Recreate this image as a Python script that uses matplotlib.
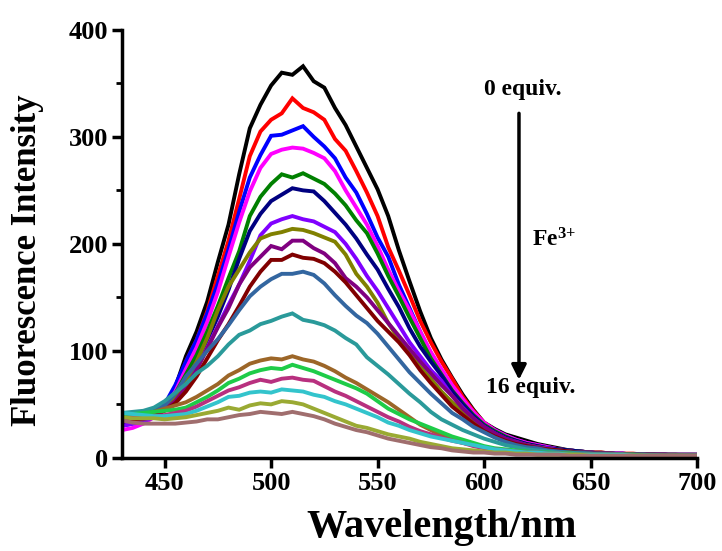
import numpy as np
import matplotlib
matplotlib.use("Agg")
import matplotlib.pyplot as plt
from matplotlib.ticker import MultipleLocator

# emission spectra of the probe, titrated with Fe3+ (0 -> 16 equiv.)
wavelength = np.arange(430, 701, 5)

black = [33, 35, 37, 41, 48, 66, 95, 118, 146, 183, 218,
         265, 308, 330, 348, 360, 358, 366, 352, 346, 327, 311,
         291, 271, 251, 226, 194, 165, 137, 112, 92, 75, 59,
         45, 33, 27, 22, 19, 16, 13, 11, 9, 7, 6,
         5, 5, 4, 4, 3, 3, 3, 3, 3, 3, 3]
red = [32, 33, 35, 40, 47, 63, 90, 110, 137, 170, 203,
       242, 282, 305, 316, 322, 336, 327, 323, 316, 298, 287,
       268, 248, 226, 197, 175, 152, 128, 108, 90, 74, 57,
       44, 33, 26, 21, 17, 14, 12, 10, 8, 7, 6,
       5, 5, 4, 4, 4, 3, 3, 3, 3, 3, 3]
blue = [30, 32, 35, 41, 50, 68, 90, 110, 135, 163, 195,
        230, 262, 283, 301, 302, 306, 310, 300, 291, 280, 262,
        248, 228, 206, 188, 162, 140, 118, 98, 82, 67, 54,
        42, 32, 26, 21, 17, 14, 12, 10, 8, 7, 6,
        5, 4, 4, 4, 3, 3, 3, 3, 3, 3, 3]
magenta = [26, 28, 32, 38, 47, 62, 83, 103, 127, 155, 188,
           220, 249, 271, 284, 288, 290, 289, 285, 280, 268, 250,
           234, 218, 198, 176, 156, 138, 118, 99, 83, 68, 55,
           43, 33, 26, 21, 17, 14, 12, 10, 8, 7, 6,
           5, 4, 4, 4, 3, 3, 3, 3, 3, 2, 2]
green = [33, 34, 36, 40, 47, 60, 78, 96, 118, 142, 168,
         193, 226, 244, 256, 265, 262, 266, 261, 256, 247, 236,
         222, 210, 191, 170, 151, 131, 112, 93, 78, 63, 51,
         40, 31, 25, 20, 16, 13, 11, 9, 8, 7, 6,
         5, 4, 4, 3, 3, 3, 3, 3, 3, 2, 2]
navy = [31, 33, 35, 39, 45, 56, 72, 90, 110, 132, 157,
        186, 212, 228, 240, 246, 252, 250, 249, 240, 229, 218,
        205, 190, 176, 158, 141, 121, 104, 90, 77, 62, 50,
        39, 30, 24, 19, 16, 13, 11, 9, 8, 7, 6,
        5, 4, 4, 3, 3, 3, 3, 3, 2, 2, 2]
violet = [30, 32, 34, 38, 45, 55, 69, 85, 103, 123, 143,
          162, 184, 208, 219, 223, 226, 223, 221, 216, 211, 200,
          186, 170, 156, 140, 124, 108, 95, 82, 72, 58, 47,
          37, 29, 23, 18, 15, 12, 10, 9, 7, 6, 5,
          5, 4, 4, 3, 3, 3, 3, 3, 2, 2, 2]
olive = [36, 37, 38, 41, 47, 57, 72, 90, 112, 138, 160,
         176, 192, 205, 209, 211, 214, 213, 210, 206, 202, 190,
         172, 160, 145, 126, 111, 98, 85, 74, 62, 52, 43,
         35, 27, 22, 17, 14, 12, 10, 8, 7, 6, 5,
         5, 4, 4, 3, 3, 3, 3, 3, 2, 2, 2]
purple = [34, 35, 36, 39, 45, 53, 66, 82, 102, 122, 140,
          162, 178, 188, 198, 195, 203, 203, 196, 191, 182, 168,
          160, 150, 138, 126, 114, 102, 90, 79, 68, 58, 46,
          37, 29, 23, 18, 15, 12, 10, 8, 7, 6, 5,
          5, 4, 4, 3, 3, 3, 3, 3, 2, 2, 2]
maroon = [35, 36, 37, 39, 44, 51, 62, 76, 93, 110, 125,
          142, 160, 174, 185, 185, 190, 187, 186, 182, 174, 164,
          152, 140, 128, 118, 108, 96, 82, 70, 59, 48, 40,
          32, 25, 20, 16, 13, 11, 9, 8, 7, 6, 5,
          4, 4, 3, 3, 3, 3, 3, 2, 2, 2, 2]
steel = [38, 40, 42, 44, 49, 60, 76, 88, 100, 111, 124,
         138, 151, 160, 167, 172, 172, 174, 171, 163, 152, 142,
         133, 126, 116, 104, 92, 80, 70, 60, 51, 42, 36,
         29, 24, 19, 15, 12, 10, 9, 7, 6, 5, 5,
         4, 4, 3, 3, 3, 3, 3, 2, 2, 2, 2]
teal = [42, 43, 44, 47, 53, 61, 69, 79, 86, 95, 106,
        115, 119, 125, 128, 132, 135, 129, 127, 124, 119, 112,
        106, 94, 86, 78, 69, 60, 52, 43, 36, 31, 26,
        22, 18, 15, 12, 10, 8, 7, 6, 5, 5, 4,
        4, 3, 3, 3, 3, 3, 2, 2, 2, 2, 2]
brown = [39, 40, 41, 43, 46, 49, 52, 57, 63, 69, 77,
         82, 88, 91, 93, 92, 95, 92, 90, 86, 81, 75,
         70, 64, 58, 52, 45, 38, 31, 26, 21, 17, 14,
         12, 10, 8, 7, 6, 5, 5, 4, 4, 4, 3,
         3, 3, 3, 3, 3, 2, 2, 2, 2, 2, 2]
lime = [41, 41, 42, 43, 44, 45, 47, 52, 57, 63, 70,
        74, 79, 82, 84, 83, 87, 84, 81, 77, 73, 69,
        65, 60, 53, 46, 41, 36, 32, 28, 24, 20, 17,
        14, 11, 9, 8, 7, 6, 5, 5, 4, 4, 3,
        3, 3, 3, 3, 3, 2, 2, 2, 2, 2, 2]
pink = [37, 38, 38, 39, 40, 42, 44, 48, 53, 58, 63,
        66, 70, 73, 71, 74, 75, 73, 72, 67, 62, 58,
        53, 48, 43, 38, 34, 29, 25, 22, 19, 16, 14,
        11, 9, 8, 7, 6, 5, 5, 4, 4, 3, 3,
        3, 3, 3, 3, 2, 2, 2, 2, 2, 2, 2]
cyan = [42, 41, 40, 39, 39, 40, 41, 44, 48, 52, 57,
        58, 61, 62, 61, 64, 63, 62, 59, 57, 53, 50,
        46, 42, 38, 33, 30, 26, 23, 20, 18, 16, 14,
        12, 10, 8, 7, 6, 5, 5, 4, 4, 3, 3,
        3, 3, 3, 3, 2, 2, 2, 2, 2, 2, 2]
ygreen = [38, 37, 37, 37, 36, 37, 38, 40, 42, 44, 47,
          45, 49, 51, 50, 53, 52, 50, 46, 42, 38, 34,
          30, 28, 25, 22, 20, 18, 15, 13, 11, 9, 8,
          7, 6, 5, 5, 4, 4, 3, 3, 3, 3, 3,
          2, 2, 2, 2, 2, 2, 2, 2, 2, 2, 2]
rosy = [35, 33, 32, 32, 32, 32, 33, 34, 36, 36, 38,
        40, 41, 43, 42, 41, 43, 41, 39, 36, 32, 29,
        26, 24, 21, 18, 16, 14, 12, 10, 9, 7, 6,
        5, 5, 4, 4, 3, 3, 3, 3, 3, 2, 2,
        2, 2, 2, 2, 2, 2, 2, 2, 2, 2, 2]

spectra = [black, red, blue, magenta, green, navy, violet, olive, purple,
           maroon, steel, teal, brown, lime, pink, cyan, ygreen, rosy]
colors = ['#000000', '#ff0000', '#0000ff', '#ff00ff', '#008000', '#000080',
          '#8000ff', '#808000', '#800080', '#800000', '#3366a0', '#2a9a9a',
          '#9c6628', '#1ecc48', '#b8307f', '#33c4cc', '#9aaa33', '#a06e6e']

plt.rcParams['font.family'] = ['Liberation Serif', 'DejaVu Serif']
plt.rcParams['font.weight'] = 'bold'
plt.rcParams['mathtext.fontset'] = 'custom'
plt.rcParams['mathtext.rm'] = 'Liberation Serif:bold'
plt.rcParams['mathtext.it'] = 'Liberation Serif:bold'

fig = plt.figure(figsize=(7.22, 5.51), dpi=100)
ax = fig.add_axes([0.169, 0.169, 0.7964, 0.7768])

for y, c in zip(spectra, colors):
    ax.plot(wavelength, y, color=c, lw=2.8, solid_joinstyle='miter')

ax.set_xlim(430, 700)
ax.set_ylim(0, 400)
ax.xaxis.set_major_locator(MultipleLocator(50))
ax.xaxis.set_major_formatter(lambda v, p: '' if v < 450 else f'{v:.0f}')
ax.yaxis.set_major_locator(MultipleLocator(100))
ax.yaxis.set_minor_locator(MultipleLocator(50))

for s in ['top', 'right']:
    ax.spines[s].set_visible(False)
for s in ['left', 'bottom']:
    ax.spines[s].set_linewidth(2.5)
ax.tick_params(which='major', length=7, width=2.5, labelsize=19, pad=3)
ax.tick_params(axis='y', which='minor', length=4, width=2)
ax.tick_params(axis='x', which='minor', bottom=False)

fig.text(0.611, 0.042, 'Wavelength/nm', fontsize=29, fontweight='bold',
         ha='center', va='center')
fig.text(0.038, 0.528, 'Fluorescence Intensity', fontsize=25, fontweight='bold',
         ha='center', va='center', rotation=90)

# titration arrow and labels
ax.annotate('', xy=(616.4, 73), xytext=(616.4, 322),
            arrowprops=dict(arrowstyle='-|>', color='k', lw=2.5,
                            mutation_scale=22, shrinkA=0, shrinkB=0))
ax.text(618, 344, '0 equiv.', fontsize=17, ha='center', va='center')
ax.text(622, 66, '16 equiv.', fontsize=17, ha='center', va='center')
ax.text(622.5, 204, 'Fe$^{3{+}}$', fontsize=17, ha='left', va='center')

fig.savefig('out.png', dpi=100)
